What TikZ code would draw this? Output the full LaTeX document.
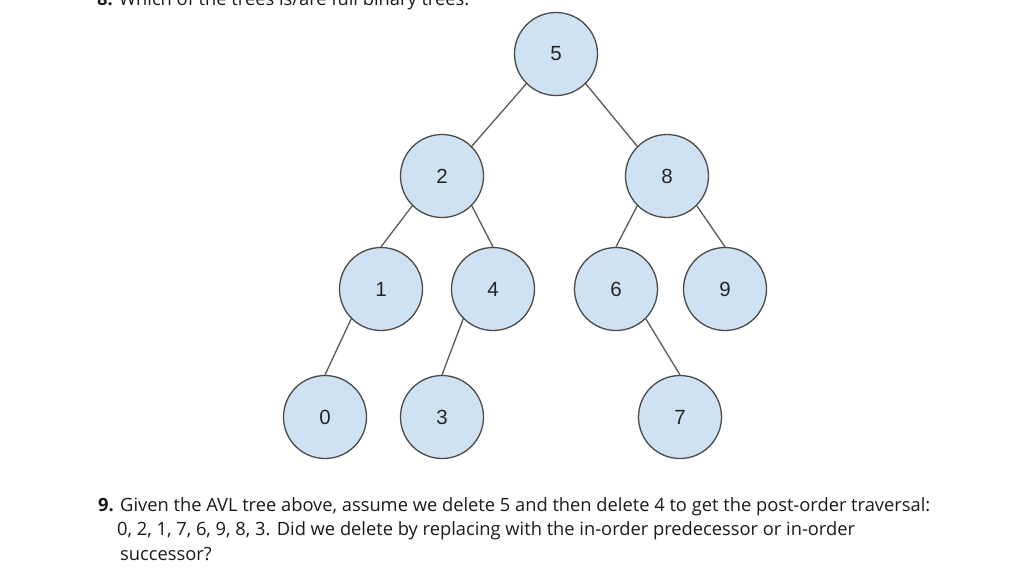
\documentclass[tikz,border=0pt]{standalone}
\usepackage{fontspec}
\setmainfont{Open Sans}
\newfontfamily\nodefont{Liberation Sans}
\definecolor{nodefill}{HTML}{CFE2F3}
\definecolor{nodeline}{HTML}{4A4A4A}
\definecolor{edgeline}{HTML}{595959}
\tikzset{
  tn/.style={circle, draw=nodeline, fill=nodefill, line width=1.3pt, minimum size=83pt, inner sep=0pt, font=\nodefont\fontsize{20.5}{22}\selectfont, text=black!85},
  edge/.style={draw=edgeline, line width=1.3pt},
  para/.style={anchor=base west, inner sep=0pt, font=\fontsize{18.3}{22}\selectfont, text=black!90}
}
\begin{document}
\begin{tikzpicture}[x=1pt, y=-1pt]
\useasboundingbox (0,0) rectangle (1024,574);
\begin{scope}
\clip (0,0) rectangle (1024,574);
\node[para] (q8) at (97,5.5) {\textbf{8.} Which of the trees is/are full binary trees.};
\end{scope}
\node[tn] (n5) at (556,54) {5};
\node[tn] (n2) at (442,176) {2};
\node[tn] (n8) at (667,176) {8};
\node[tn] (n1) at (381,289) {1};
\node[tn] (n4) at (493,289) {4};
\node[tn] (n6) at (616,289) {6};
\node[tn] (n9) at (725,289) {9};
\node[tn] (n0) at (325,417) {0};
\node[tn] (n3) at (442,417) {3};
\node[tn] (n7) at (680,417) {7};
\draw[edge] (n5.225) -- (n2.45);
\draw[edge] (n5.-45) -- (n8.135);
\draw[edge] (n2.225) -- (n1.north);
\draw[edge] (n2.-45) -- (n4.north);
\draw[edge] (n8.225) -- (n6.north);
\draw[edge] (n8.-45) -- (n9.north);
\draw[edge] (n1.225) -- (n0.north);
\draw[edge] (n4.225) -- (n3.north);
\draw[edge] (n6.-45) -- (n7.north);
\node[para] (l1) at (98,511) {\textbf{9.} Given the AVL tree above, assume we delete 5 and then delete 4 to get the post-order traversal:};
\node[para] (l2) at (117,535.5) {0, 2, 1, 7, 6, 9, 8, 3. Did we delete by replacing with the in-order predecessor or in-order};
\node[para] (l3) at (120,560) {successor?};
\end{tikzpicture}
\end{document}
